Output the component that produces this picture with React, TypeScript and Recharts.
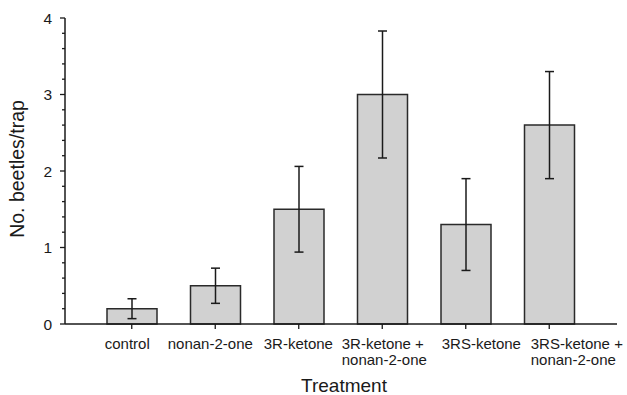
import { Bar, BarChart, ErrorBar, XAxis, YAxis } from "recharts"

const categories = [
  "control",
  "nonan-2-one",
  "3R-ketone",
  "3R-ketone +\nnonan-2-one",
  "3RS-ketone",
  "3RS-ketone +\nnonan-2-one",
]
const means = [0.2, 0.5, 1.5, 3.0, 1.3, 2.6]
const errors = [0.13, 0.23, 0.56, 0.83, 0.6, 0.7]
const yTicks = [0, 0.2, 0.4, 0.6, 0.8, 1, 1.2, 1.4, 1.6, 1.8, 2, 2.2, 2.4, 2.6, 2.8, 3, 3.2, 3.4, 3.6, 3.8, 4]
const yLabels = [0, 1, 2, 3, 4]

const data = categories.map((name, i) => ({ name, mean: means[i], err: errors[i] }))

const font = "'Liberation Sans', Arial, sans-serif"
const ink = "#1a1a1a"
// left edge of each category label, relative to its tick (the source figure places them by hand)
const labelStart = [-27, -47.5, -35, -40.5, -24, -18.5]

function YTick(props: any) {
  const { x, y, payload } = props
  const major = yLabels.includes(Number(payload.value))
  return (
    <g>
      <line x1={x - (major ? 5 : 3)} x2={x} y1={y} y2={y} stroke={ink} strokeWidth={1.3} />
      {major && (
        <text x={x - 13} y={y} dy="0.36em" textAnchor="end" fontSize={15.5} fontFamily={font} fill={ink}>
          {payload.value}
        </text>
      )}
    </g>
  )
}

function XTick(props: any) {
  const { x, y, payload, index } = props
  const lines = String(payload.value).split("\n")
  const tx = x + (labelStart[index] ?? 0)
  return (
    <g>
      <line x1={x} x2={x} y1={y} y2={y + 5} stroke={ink} strokeWidth={1.3} />
      <text x={tx} y={y + 25} textAnchor="start" fontSize={15} fontFamily={font} fill={ink}>
        {lines.map((l, i) => (
          <tspan key={i} x={tx} dy={i === 0 ? 0 : 16}>
            {l}
          </tspan>
        ))}
      </text>
    </g>
  )
}

export default function App() {
  return (
    <div style={{ position: "absolute", left: 0, top: 0, background: "#fff" }}>
      <BarChart width={627} height={395} data={data} margin={{ top: 18, right: 10, left: 0, bottom: 0 }}>
        <XAxis
          dataKey="name"
          height={71}
          padding={{ left: 25, right: 26 }}
          stroke={ink}
          strokeWidth={1.5}
          tickLine={false}
          tickSize={0}
          tickMargin={0}
          interval={0}
          tick={<XTick />}
          label={{ value: "Treatment", position: "insideBottom", offset: 3, dx: 3, fontSize: 19, fontFamily: font, fill: ink }}
        />
        <YAxis
          width={65}
          domain={[0, 4]}
          ticks={yTicks}
          stroke={ink}
          strokeWidth={1.5}
          tickLine={false}
          tickSize={0}
          tickMargin={0}
          interval={0}
          tick={<YTick />}
          label={{ value: "No. beetles/trap", angle: -90, position: "center", dx: -15, dy: -2, fontSize: 19.5, fontFamily: font, fill: ink }}
        />
        <Bar dataKey="mean" barSize={50} fill="#d1d1d1" stroke="#2a2a2a" strokeWidth={1.5} isAnimationActive={false}>
          <ErrorBar dataKey="err" width={4.5} stroke={ink} strokeWidth={1.5} />
        </Bar>
      </BarChart>
    </div>
  )
}
